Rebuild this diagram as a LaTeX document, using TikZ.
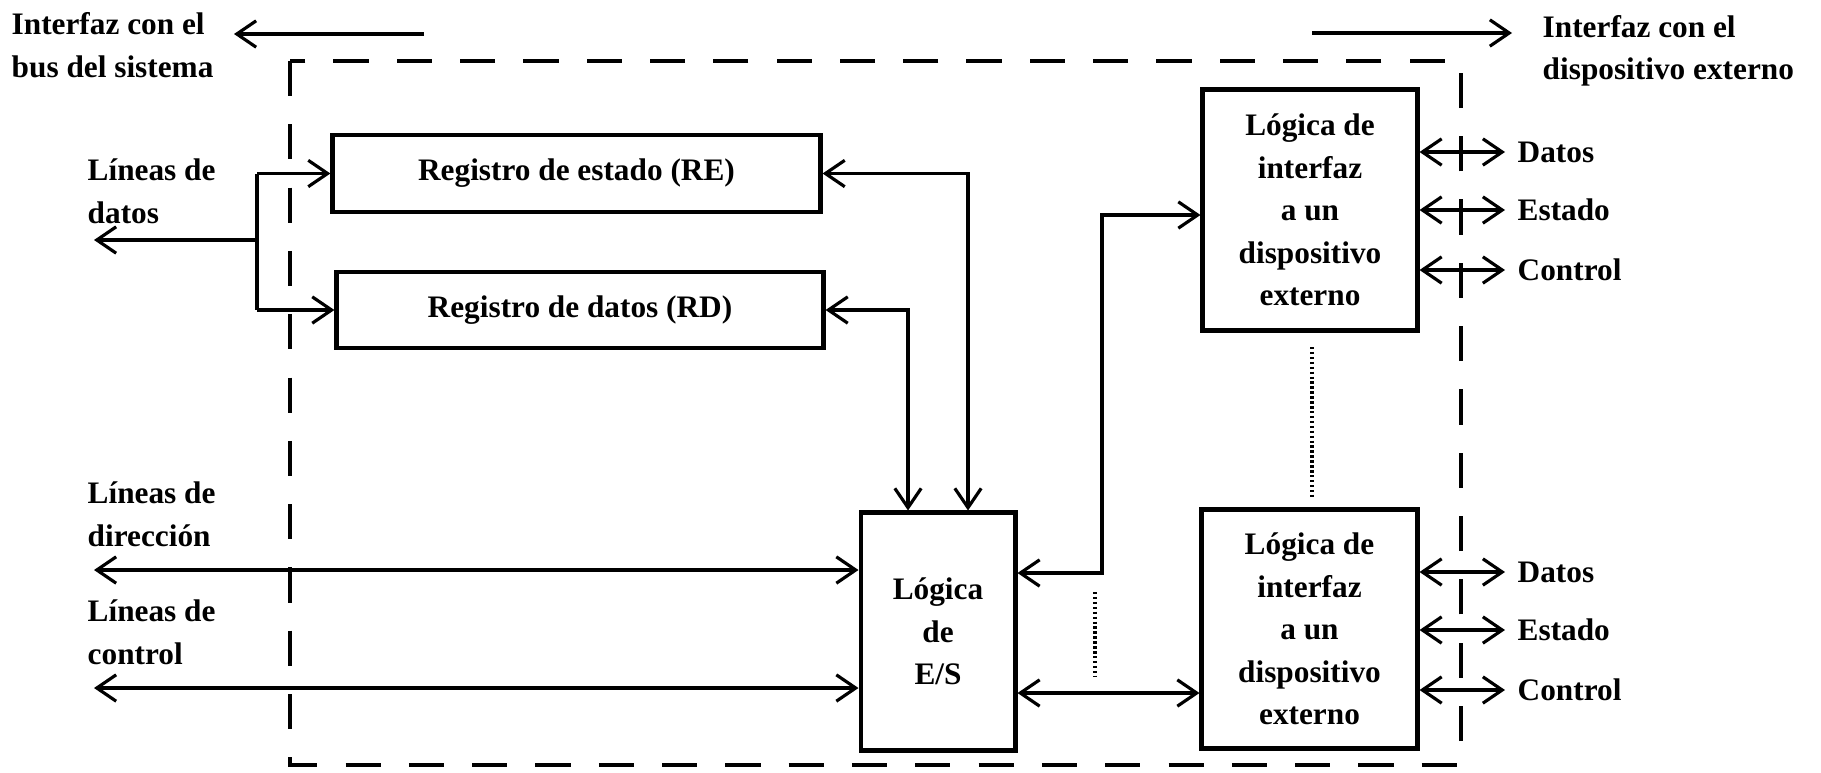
\documentclass[tikz,border=0pt]{standalone}
\usepackage{fontspec}
\setmainfont{Liberation Serif}
\usetikzlibrary{arrows.meta}
\newcommand\figfont{\fontsize{8.9}{12.1}\selectfont\bfseries}
\begin{document}
\begin{tikzpicture}[x=0.01cm,y=-0.01cm,
  box/.style={draw,line width=1.4pt,inner sep=0pt,align=center,font=\figfont},
  lbl/.style={inner sep=0pt,align=left,font=\figfont},
  con/.style={line width=0.9pt,arrows={Straight Barb[length=5.5pt,width=7.5pt]-Straight Barb[length=5.5pt,width=7.5pt]}},
  onlyend/.style={line width=0.9pt,-{Straight Barb[length=5.5pt,width=7.5pt]}},
  plain/.style={line width=0.9pt},
  dashbox/.style={line width=1pt,dash pattern=on 10pt off 8pt},
  dotsty/.style={line width=0.9pt,dash pattern=on 0.7pt off 0.7pt}]
\useasboundingbox (0,0) rectangle (1821,772);
% dashed interface boundary
\draw[dashbox] (290,61) rectangle (1461,765);
% boxes
\node[box,minimum width=4.87cm,minimum height=0.77cm] (re) at (576.5,173.5) {Registro de estado (RE)};
\node[box,minimum width=4.86cm,minimum height=0.76cm] (rd) at (580,310) {Registro de datos (RD)};
\node[box,minimum width=1.54cm,minimum height=2.37cm] (es) at (938,631.5) {Lógica\\de\\E/S};
\node[box,minimum width=2.14cm,minimum height=2.40cm] (u1) at (1310,210) {Lógica de\\interfaz\\a un\\dispositivo\\externo};
\node[box,minimum width=2.15cm,minimum height=2.38cm] (u2) at (1309.5,629) {Lógica de\\interfaz\\a un\\dispositivo\\externo};
% labels
\node[lbl,anchor=west] (tl) at (11,45) {Interfaz con el\\bus del sistema};
\node[lbl,anchor=west] (tr) at (1542,51) {Interfaz con el\\dispositivo externo};
\node[lbl,anchor=west] (ld) at (87,191) {Líneas de\\datos};
\node[lbl,anchor=west] (ldir) at (87,514) {Líneas de\\dirección};
\node[lbl,anchor=west] (lc) at (87,632) {Líneas de\\control};
% top arrows
\coordinate (tla) at (424,34); \coordinate (tlb) at (234,34);
\draw[onlyend] (tla) -- (tlb);
\coordinate (tra) at (1312,33); \coordinate (trb) at (1512,33);
\draw[onlyend] (tra) -- (trb);
% data lines
\coordinate (dj) at (257,240);
\coordinate (dL) at (94,240);
\draw[plain] (dj |- re.west) -- (dj |- rd.west);
\draw[onlyend] (dj |- re.west) -- (re.west);
\draw[onlyend] (dj |- rd.west) -- (rd.west);
\draw[onlyend] (dj) -- (dL);
% registers to E/S
\coordinate (reT) at (968,173);
\coordinate (rdT) at (908,310);
\draw[con] (re.east) -- (reT |- re.east) -- (reT |- es.north);
\draw[con] (rd.east) -- (rdT |- rd.east) -- (rdT |- es.north);
% address and control lines
\coordinate (aL) at (94,570);
\coordinate (cL) at (94,688);
\draw[con] (aL) -- (aL -| es.west);
\draw[con] (cL) -- (cL -| es.west);
% E/S to device interfaces
\coordinate (ujB) at (1102,573);
\coordinate (ujT) at (1102,215);
\draw[con] (ujB -| es.east) -- (ujB) -- (ujT) -- (ujT -| u1.west);
\coordinate (e2) at (1100,693);
\draw[con] (e2 -| es.east) -- (e2 -| u2.west);
% dotted continuation marks
\draw[dotsty] (1312,347) -- (1312,497);
\draw[dotsty] (1095,592) -- (1095,677);
% device-side lines
\foreach \yy/\tt/\nn in {152/Datos/a,210/Estado/b,270/Control/c}{
  \coordinate (p1\nn) at (1505,\yy);
  \draw[con] (p1\nn -| u1.east) -- (p1\nn);
  \node[lbl,anchor=west] (q1\nn) at (1517,\yy) {\tt};
}
\foreach \yy/\tt/\nn in {572/Datos/a,630/Estado/b,690/Control/c}{
  \coordinate (p2\nn) at (1505,\yy);
  \draw[con] (p2\nn -| u2.east) -- (p2\nn);
  \node[lbl,anchor=west] (q2\nn) at (1517,\yy) {\tt};
}
\end{tikzpicture}
\end{document}
